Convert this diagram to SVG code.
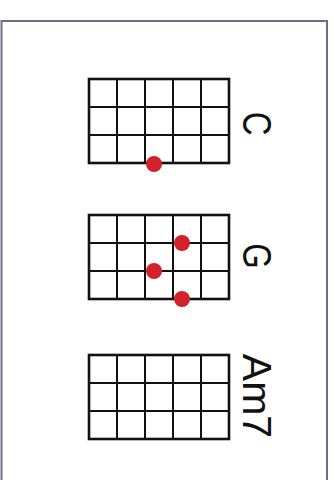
<svg xmlns="http://www.w3.org/2000/svg" width="334" height="480" viewBox="0 0 334 480">
<style>
.grid{fill:none;stroke:#111;stroke-width:2}
.outer{fill:none;stroke:#111;stroke-width:2.6}
.dot{fill:#d42028}
.lbl{font-family:"Liberation Sans",Arial,sans-serif;font-size:41px;fill:#111}
</style>
<defs>
<g id="fret">
<rect class="outer" x="0" y="0" width="140" height="84"/>
<path class="grid" d="M28 0V84M56 0V84M84 0V84M112 0V84M0 28H140M0 56H140"/>
</g>
</defs>
<rect x="0" y="0" width="334" height="480" fill="#fff"/>
<path d="M1.5 480V21H327V480" fill="none" stroke="#6c6c8c" stroke-width="2"/>
<g id="chord-c">
<use href="#fret" x="89" y="79"/>
<circle class="dot" cx="154" cy="164" r="8"/>
<text class="lbl" text-anchor="middle" transform="translate(243,123.5) rotate(90) scale(0.8,1)">C</text>
</g>
<g id="chord-g">
<use href="#fret" x="89" y="215"/>
<circle class="dot" cx="182" cy="243" r="8"/>
<circle class="dot" cx="154" cy="271" r="8"/>
<circle class="dot" cx="182" cy="299" r="8"/>
<text class="lbl" text-anchor="middle" transform="translate(243,256) rotate(90) scale(0.8,1)">G</text>
</g>
<g id="chord-am7">
<use href="#fret" x="89" y="355"/>
<text class="lbl" text-anchor="middle" transform="translate(243,396) rotate(90)">Am7</text>
</g>
<g id="connectors"/>
</svg>
